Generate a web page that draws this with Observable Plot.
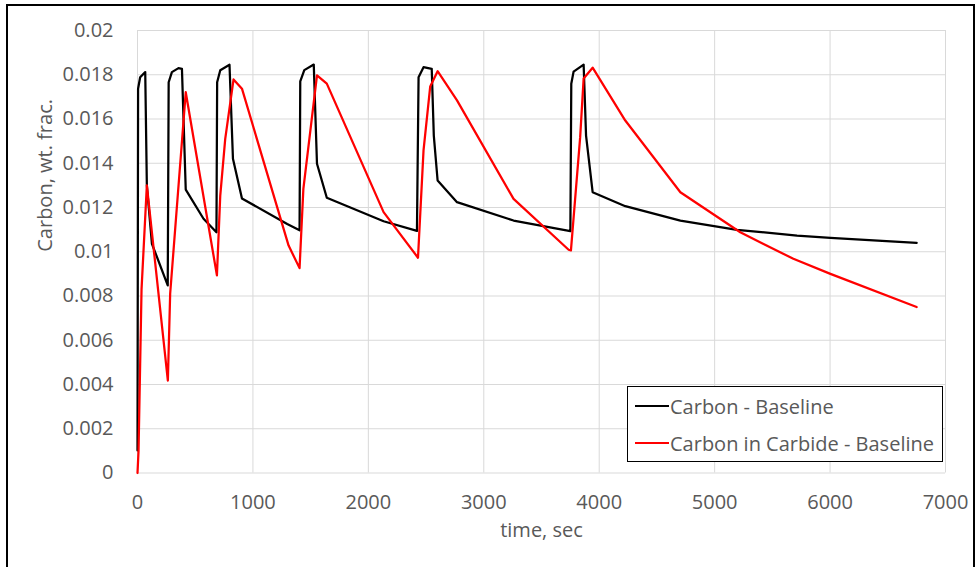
<!DOCTYPE html>
<html>
<head>
<meta charset="utf-8">
<script src="https://cdn.jsdelivr.net/npm/d3@7"></script>
<script src="https://cdn.jsdelivr.net/npm/@observablehq/plot@0.6"></script>
<style>
  html, body { margin: 0; padding: 0; background: #fff; overflow: hidden; }
  #wrap { position: relative; width: 980px; height: 567px; }
  #frame { position: absolute; left: 6px; top: 4px; width: 969px; height: 600px; border: 2px solid #000; box-sizing: border-box; pointer-events: none; }
  #legend { position: absolute; left: 627px; top: 386px; width: 316px; height: 76px; border: 1.5px solid #000; background: #fff; box-sizing: border-box; font-family: "Open Sans", sans-serif; font-size: 20px; color: #595959; }
  .row { position: absolute; left: 7px; height: 26px; display: flex; align-items: center; white-space: nowrap; }
  .sw { width: 34px; height: 0; border-top: 2.25px solid; margin-right: 1px; }
</style>
</head>
<body>
<div id="wrap">
  <div id="chart"></div>
  <div id="frame"></div>
  <div id="legend"></div>
</div>
<script>
const seriesNames = ["Carbon - Baseline", "Carbon in Carbide - Baseline"];
const seriesColors = ["#000000", "#ff0000"];

const carbonTime = [0, 5, 23, 67, 81, 125, 262, 270, 298, 355, 385, 418, 572, 684, 690, 717, 797, 827, 905, 1297, 1404, 1410, 1445, 1527, 1555, 1640, 2132, 2421, 2435, 2478, 2549, 2567, 2600, 2768, 3258, 3750, 3758, 3778, 3865, 3886, 3943, 4226, 4703, 5194, 5714, 6003, 6750];
const carbonValue = [0.00102, 0.01737, 0.01789, 0.01812, 0.0130, 0.01036, 0.00848, 0.01766, 0.01812, 0.0183, 0.01827, 0.01281, 0.01149, 0.01088, 0.01766, 0.0182, 0.01845, 0.0142, 0.01241, 0.01125, 0.01097, 0.0177, 0.01821, 0.01846, 0.01398, 0.01244, 0.01138, 0.01094, 0.01789, 0.01834, 0.01827, 0.01525, 0.01322, 0.01224, 0.01141, 0.01093, 0.01759, 0.01814, 0.01846, 0.01525, 0.01269, 0.01206, 0.01141, 0.01099, 0.01073, 0.01063, 0.0104];

const carbideTime = [0, 9, 35, 81, 263, 283, 418, 688, 717, 760, 832, 905, 1309, 1404, 1437, 1555, 1640, 2132, 2430, 2478, 2536, 2600, 2768, 3258, 3735, 3755, 3835, 3865, 3943, 4226, 4703, 5222, 5682, 6003, 6750];
const carbideValue = [0, 0.001, 0.0083, 0.0130, 0.00418, 0.0081, 0.01721, 0.00893, 0.01254, 0.0151, 0.01779, 0.01737, 0.01028, 0.00926, 0.01284, 0.01797, 0.0176, 0.01179, 0.00973, 0.01458, 0.01747, 0.01816, 0.01684, 0.01239, 0.01009, 0.01006, 0.01518, 0.01783, 0.01832, 0.01593, 0.01269, 0.01088, 0.00968, 0.009, 0.0075];

const xTicks = [0, 1000, 2000, 3000, 4000, 5000, 6000, 7000];
const yTicks = [0, 0.002, 0.004, 0.006, 0.008, 0.01, 0.012, 0.014, 0.016, 0.018, 0.02];
const xLabel = "time, sec";
const yLabel = "Carbon, wt. frac.";

const carbon = carbonTime.map((t, i) => ({t, v: carbonValue[i], s: seriesNames[0]}));
const carbide = carbideTime.map((t, i) => ({t, v: carbideValue[i], s: seriesNames[1]}));

const fmtY = d => String(+d.toFixed(3));

const chart = Plot.plot({
  width: 980,
  height: 567,
  marginLeft: 137,
  marginRight: 35,
  marginTop: 30,
  marginBottom: 94.5,
  style: { fontFamily: "'Open Sans', sans-serif", fontSize: "20px", color: "#595959", background: "transparent" },
  x: { domain: [0, 7000], ticks: xTicks, label: null },
  y: { domain: [0, 0.02], ticks: yTicks, label: null },
  marks: [
    Plot.gridX(xTicks, { stroke: "#d9d9d9", strokeOpacity: 1, strokeWidth: 1 }),
    Plot.gridY(yTicks, { stroke: "#d9d9d9", strokeOpacity: 1, strokeWidth: 1 }),
    Plot.axisX(xTicks, { tickSize: 0, tickPadding: 22, tickFormat: d => String(d), fill: "#595959", fontSize: 20 }),
    Plot.axisY(yTicks, { tickSize: 0, tickPadding: 24, tickFormat: fmtY, fill: "#595959", fontSize: 20 }),
    Plot.line(carbon, { x: "t", y: "v", stroke: seriesColors[0], strokeWidth: 2.25, strokeLinejoin: "round" }),
    Plot.line(carbide, { x: "t", y: "v", stroke: seriesColors[1], strokeWidth: 2.25, strokeLinejoin: "round" }),
    Plot.text([xLabel], { frameAnchor: "bottom", dy: 64, text: d => d, fill: "#595959", fontSize: 20 }),
    Plot.text([yLabel], { frameAnchor: "left", dx: -92, rotate: -90, text: d => d, fill: "#595959", fontSize: 20 })
  ]
});
document.getElementById("chart").appendChild(chart);

const legend = document.getElementById("legend");
seriesNames.forEach((name, i) => {
  const row = document.createElement("div");
  row.className = "row";
  row.style.top = (i === 0 ? 6 : 43) + "px";
  const sw = document.createElement("div");
  sw.className = "sw";
  sw.style.borderTopColor = seriesColors[i];
  const tx = document.createElement("span");
  tx.textContent = name;
  row.appendChild(sw);
  row.appendChild(tx);
  legend.appendChild(row);
});
</script>
</body>
</html>
